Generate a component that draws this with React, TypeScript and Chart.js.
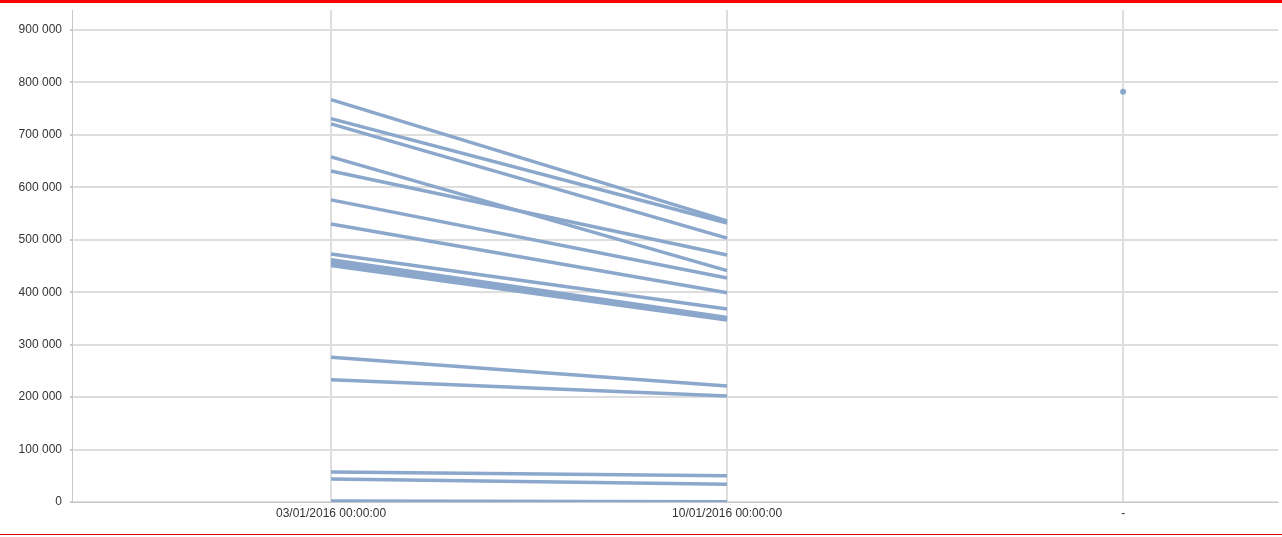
import React, { useEffect, useRef } from 'react';
import { Chart, registerables } from 'chart.js';

Chart.register(...registerables);

const categories = ['03/01/2016 00:00:00', '10/01/2016 00:00:00', '-'];
const startValues = [767000, 731000, 721000, 658000, 631000, 576000, 530000, 473000, 462000, 456000, 451000, 276000, 233000, 57000, 44000, 2000];
const endValues = [536000, 532000, 503000, 441000, 471000, 427000, 399000, 368000, 352000, 349000, 347000, 221000, 202000, 50000, 34000, 500];
const loneValue = 782000;
const yMax = 938000;
const yStep = 100000;

const LINE_COLOR = 'rgb(139,167,203)';
const GRID_COLOR = '#dedede';
const AXIS_COLOR = '#c8c8c8';

function formatThousands(v: number): string {
  return String(Math.round(v)).replace(/\B(?=(\d{3})+(?!\d))/g, ' ');
}

export default function App() {
  const canvasRef = useRef<HTMLCanvasElement | null>(null);

  useEffect(() => {
    document.body.style.margin = '0';
    const canvas = canvasRef.current;
    if (!canvas) return;

    const lineSets = startValues.map((s, i) => ({
      data: [
        { x: 0, y: s },
        { x: 1, y: endValues[i] },
      ],
      borderColor: LINE_COLOR,
      backgroundColor: LINE_COLOR,
      borderWidth: 3.5,
      pointRadius: 0,
      fill: false,
      tension: 0,
    }));

    const pointSet = {
      data: [{ x: 2, y: loneValue }],
      borderColor: LINE_COLOR,
      backgroundColor: LINE_COLOR,
      borderWidth: 0,
      pointRadius: 3,
      showLine: false,
      fill: false,
    };

    const chart = new Chart(canvas, {
      type: 'line',
      data: { datasets: [...lineSets, pointSet] as any },
      options: {
        animation: false,
        responsive: false,
        devicePixelRatio: 1,
        layout: { padding: { top: 7, right: 0, left: 0, bottom: 0 } },
        plugins: {
          legend: { display: false },
          tooltip: { enabled: false },
        },
        scales: {
          x: {
            type: 'linear',
            min: -0.654,
            max: 2.391,
            afterBuildTicks: (scale: any) => {
              scale.ticks = categories.map((_, i) => ({ value: i }));
            },
            afterFit: (scale: any) => {
              scale.height = 32;
              scale.paddingLeft = 0;
              scale.paddingRight = 0;
            },
            ticks: {
              autoSkip: false,
              maxRotation: 0,
              padding: 4,
              color: '#333',
              font: { family: '"Liberation Sans", Arial, sans-serif', size: 12 },
              callback: (v: any) => categories[Math.round(Number(v))] ?? '',
            },
            grid: {
              color: GRID_COLOR,
              lineWidth: 2,
              drawTicks: false,
            },
            border: { color: AXIS_COLOR, width: 1 },
          },
          y: {
            type: 'linear',
            min: 0,
            max: yMax,
            afterBuildTicks: (scale: any) => {
              const t = [];
              for (let v = 0; v <= yMax; v += yStep) t.push({ value: v });
              scale.ticks = t;
            },
            afterFit: (scale: any) => {
              scale.width = 72;
              scale.paddingTop = 0;
              scale.paddingBottom = 0;
            },
            ticks: {
              padding: 8,
              color: '#333',
              font: { family: '"Liberation Sans", Arial, sans-serif', size: 12 },
              callback: (v: any) => formatThousands(Number(v)),
            },
            grid: {
              color: GRID_COLOR,
              lineWidth: 2,
              tickLength: 2,
              tickColor: AXIS_COLOR,
            },
            border: { color: AXIS_COLOR, width: 1 },
          },
        },
      } as any,
    });

    return () => chart.destroy();
  }, []);

  return (
    <div style={{ position: 'relative', width: 1282, height: 537, overflow: 'hidden', background: '#fff' }}>
      <div style={{ position: 'absolute', left: 0, top: 0, width: 1282, height: 3, background: '#ff0000' }} />
      <canvas
        ref={canvasRef}
        width={1282}
        height={531}
        style={{ position: 'absolute', left: 0, top: 3, width: 1282, height: 531 }}
      />
      <div style={{ position: 'absolute', left: 0, top: 534, width: 1282, height: 1, background: '#e00000' }} />
    </div>
  );
}
